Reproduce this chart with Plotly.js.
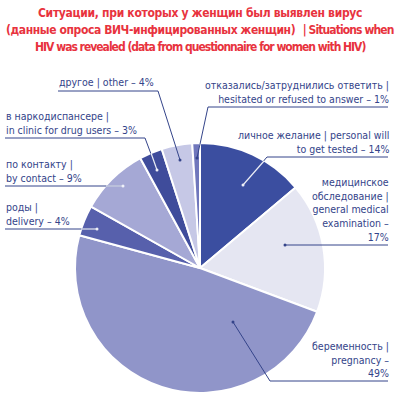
<!DOCTYPE html>
<html>
<head>
<meta charset="utf-8">
<script src="https://cdn.plot.ly/plotly-3.0.1.min.js"></script>
<style>html,body{margin:0;padding:0;background:#fff}#chart{width:400px;height:398px}</style>
</head>
<body>
<div id="chart"></div>
<script>
// Data
const categories = [
  "личное желание | personal will to get tested",
  "медицинское обследование | general medical examination",
  "беременность | pregnancy",
  "роды | delivery",
  "по контакту | by contact",
  "в наркодиспансере | in clinic for drug users",
  "другое | other",
  "отказались/затруднились ответить | hesitated or refused to answer"
];
const values = [14, 17, 49, 4, 9, 3, 4, 1];
const sliceColors = ["#3b4ea0", "#e5e6f2", "#9095c9", "#5760ac", "#a5a8d5", "#3f4c9b", "#c6c8e6", "#7077bc"];
const labelText = [
  "личное желание | personal will<br>to get tested – 14%",
  "медицинское<br>обследование |<br>general medical<br>examination –<br>17%",
  "беременность |<br>pregnancy –<br>49%",
  "роды |<br>delivery – 4%",
  "по контакту |<br>by contact – 9%",
  "в наркодиспансере |<br>in clinic for drug users – 3%",
  "другое | other – 4%",
  "отказались/затруднились ответить |<br>hesitated or refused to answer – 1%"
];
const titleLines = [
  "<span style=\"letter-spacing:-0.3px\">Ситуации, при которых у женщин был выявлен вирус</span>",
  "<span style=\"letter-spacing:-0.4px\">(данные опроса ВИЧ-инфицированных женщин)</span>  <span style=\"letter-spacing:-0.9px\">| Situations when</span>",
  "<span style=\"letter-spacing:-1px\">HIV was revealed (data from questionnaire for women with HIV)</span>"
];

// Layout helpers (pixel -> paper)
const W = 400, H = 398;
const px = x => x / W;
const py = y => 1 - y / H;
const navy = "#34448a";
const fam = "DejaVu Sans Condensed, DejaVu Sans, sans-serif";
const textFont = {family: fam, size: 10.5, color: navy, stretch: "condensed"};

const place = [
  {x: 390, y: 157, xa: "right", ux0: 267, ux1: 388, lx: 243, ly: 185, white: [264, 161]},
  {x: 390, y: 245, xa: "right", ux0: 285, ux1: 388, lx: 285, ly: 245},
  {x: 390, y: 381, xa: "right", ux0: 270, ux1: 388, lx: 233, ly: 322},
  {x: 5, y: 229, xa: "left", ux0: 5, ux1: 97, lx: 97, ly: 229, white: [81, 229]},
  {x: 5, y: 186, xa: "left", ux0: 5, ux1: 123, lx: 123, ly: 186, white: [106, 186]},
  {x: 5, y: 138, xa: "left", ux0: 5, ux1: 145, lx: 157, ly: 170, white: [151, 153]},
  {x: 58, y: 91, xa: "left", ux0: 58, ux1: 158, lx: 180, ly: 160},
  {x: 390, y: 107, xa: "right", ux0: 208, ux1: 388, lx: 197, ly: 158}
];

const annotations = [];
const shapes = [];
place.forEach((p, i) => {
  annotations.push({
    text: labelText[i], xref: "paper", yref: "paper",
    x: px(p.x), y: py(p.y - 1), xanchor: p.xa, yanchor: "bottom",
    align: p.xa, showarrow: false, font: textFont, borderpad: 0
  });
  shapes.push({type: "line", xref: "paper", yref: "paper",
    x0: px(p.ux0), y0: py(p.y), x1: px(p.ux1), y1: py(p.y), line: {color: navy, width: 1}});
  const sx = p.xa === "left" ? p.ux1 : p.ux0;
  if (sx !== p.lx || p.y !== p.ly) {
    shapes.push({type: "line", xref: "paper", yref: "paper",
      x0: px(sx), y0: py(p.y), x1: px(p.lx), y1: py(p.ly), line: {color: navy, width: 1}});
  }
  if (p.white) {
    shapes.push({type: "line", xref: "paper", yref: "paper",
      x0: px(p.white[0]), y0: py(p.white[1]), x1: px(p.lx), y1: py(p.ly), line: {color: "#eef0f8", width: 1.2}});
  }
  const dc = p.white ? "#eef0f8" : navy;
  shapes.push({type: "circle", xref: "paper", yref: "paper",
    x0: px(p.lx - 1.5), x1: px(p.lx + 1.5), y0: py(p.ly + 1.5), y1: py(p.ly - 1.5),
    fillcolor: dc, line: {width: 0}});
});

const titleY = [18, 35, 52];
titleLines.forEach((t, i) => {
  annotations.push({
    text: "<b>" + t + "</b>", xref: "paper", yref: "paper", x: 0.5, y: py(titleY[i] + 3),
    xanchor: "center", yanchor: "bottom", showarrow: false, align: "center", borderpad: 0,
    font: {family: fam, size: 12, color: "#e8333e", stretch: "condensed"}
  });
});

const trace = {
  type: "pie", labels: categories, values: values, sort: false,
  direction: "clockwise", rotation: 0, textinfo: "none", hoverinfo: "none",
  marker: {colors: sliceColors, line: {color: "#ffffff", width: 2}},
  domain: {x: [px(75), px(325)], y: [py(393), py(143)]},
  showlegend: false
};

const layout = {
  width: W, height: H, margin: {l: 0, r: 0, t: 0, b: 0},
  paper_bgcolor: "#ffffff", showlegend: false,
  annotations: annotations, shapes: shapes
};

Plotly.newPlot("chart", [trace], layout, {staticPlot: true, displayModeBar: false});
</script>
</body>
</html>
